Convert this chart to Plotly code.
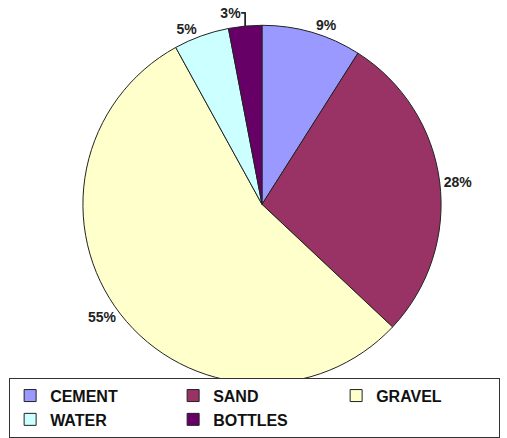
import plotly.graph_objects as go

categories = ["CEMENT", "SAND", "GRAVEL", "WATER", "BOTTLES"]
values = [9, 28, 55, 5, 3]
colors = ["#9999FF", "#993366", "#FFFFCC", "#CCFFFF", "#660066"]

W, H = 507, 438
cx, cy, d = 262, 207, 370

fig = go.Figure(go.Pie(
    labels=categories,
    values=values,
    sort=False,
    direction="clockwise",
    rotation=0,
    marker=dict(colors=colors, line=dict(color="#222222", width=1)),
    textposition="outside",
    texttemplate="%{percent:.0%}",
    textfont=dict(family="Liberation Sans, Arial, sans-serif", size=14, color="#222222", weight="bold"),
    domain=dict(x=[(cx - d / 2) / W, (cx + d / 2) / W],
                y=[1 - (cy + d / 2) / H, 1 - (cy - d / 2) / H]),
    hoverinfo="label+percent",
))

fig.update_layout(
    width=W, height=H,
    margin=dict(l=0, r=0, t=0, b=0),
    paper_bgcolor="white",
    font=dict(family="Liberation Sans, Arial, sans-serif"),
    showlegend=True,
    legend=dict(
        orientation="h",
        x=0.018, xanchor="left",
        y=1 - 386 / H, yanchor="top",
        entrywidth=118, entrywidthmode="pixels",
        bordercolor="#333333", borderwidth=1,
        font=dict(family="Liberation Sans, Arial, sans-serif", size=16, color="#111111", weight="bold"),
        traceorder="normal",
        itemclick=False,
    ),
)

fig.write_html("out.html")
